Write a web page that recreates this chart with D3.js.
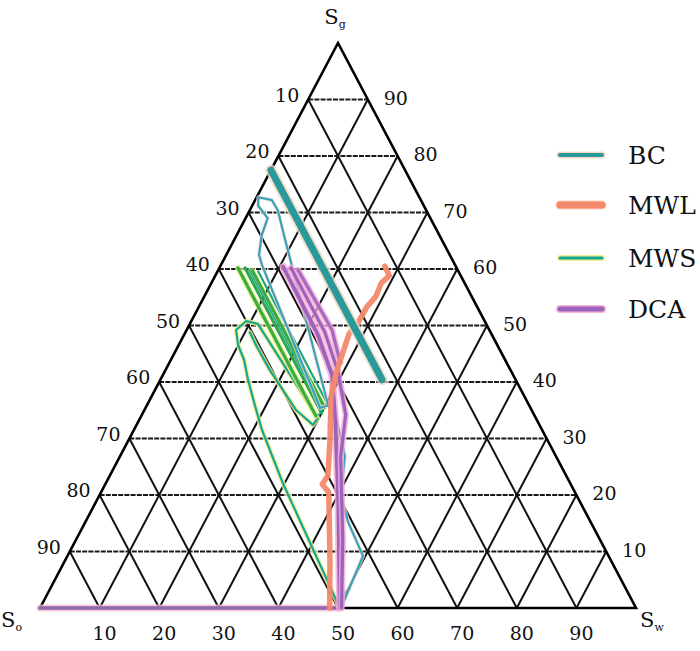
<!DOCTYPE html>
<html><head><meta charset="utf-8">
<script src="https://cdn.jsdelivr.net/npm/d3@7/dist/d3.min.js"></script>
<style>body{margin:0;background:#fff}svg{display:block}</style>
</head><body>
<svg id="c" width="700" height="651"></svg>
<script>
// Data: points as [Sg, Sw] in percent (So = 100 - Sg - Sw)
const gridValues = [10,20,30,40,50,60,70,80,90];
const leftTickLabels = ["10","20","30","40","50","60","70","80","90"];   // So
const rightTickLabels = ["90","80","70","60","50","40","30","20","10"];  // Sg
const bottomTickLabels = ["10","20","30","40","50","60","70","80","90"]; // Sw
const seriesNames = ["BC","MWL","MWS","DCA"];

const bcThick = [[77.5,0],[40.4,37.2]];
const bcThin = [[0,50.5],[9.2,49.6],[15.2,44.1],[19.8,40.6],[26.9,37.7],[33.6,32.9],[35.9,30.4],
  [65.1,8.6],[70.4,4.7],[72.2,2.8],[72.7,0.3],[71.2,1.0],[69.0,3.7],[66.0,4.2],[62.5,5.5],[60.7,6.9],[35.4,29.3],[35.9,30.4]];
const mwlPath = [[60.5,27.6],[58.8,29.2],[57.5,28.5],[55.2,28.8],[53.3,28.2],[50.6,28.1],[48.5,27.6],[44.8,28.3],
  [41.6,28.9],[37.5,30.1],[29.7,33.8],[23.4,36.6],[21.9,36.4],[20.5,38.2],[8.5,44.4],[0,48.6]];
const mwsOuter = [[0,50.3],[22.1,29.7],[31.5,21.5],[35.9,18.1],[40.4,14.7],[43.9,12.3],[46.5,10.0],[49.2,8.3],
  [50.8,9.2],[50.3,11.4],[33.6,29.8],[32.4,29.6],[35.0,25.5],[42.1,17.5],[46.5,13.0],[48.8,10.8]];
const mwsGreen1 = [[60.2,3.1],[34.0,29.3]];
const mwsGreen2 = [[60.2,4.3],[34.5,30.0]];
const mwsGreen3 = [[59.8,5.7],[35.5,30.0]];
const mwsGreen4 = [[59.6,6.8],[36.5,29.8]];
const mwsTeal = [[60.0,5.0],[35.0,30.0],[34.2,29.6]];
const dca1 = [[60.4,10.6],[48.3,22.5],[41.2,28.4],[33.3,32.9],[19.1,40.5],[0,50.3]];
const dca2 = [[60.2,12.0],[48.8,23.4],[41.8,29.1],[34.2,34.2],[26.9,37.0],[12.0,44.8],[0,50.6]];
const dca3 = [[59.8,13.4],[49.2,24.4],[43.5,28.6]];
const dcaBase = [[0,0],[0,50]];

const svg = d3.select("#c");
const yS = d3.scaleLinear().domain([0,100]).range([608,43]);   // Sg -> height
const xS = d3.scaleLinear().domain([0,100]).range([40,636]);   // Sw along base
const skew = (xS(50) - xS(0)) / 100;
const P = d => [xS(d[1]) + skew * d[0], yS(d[0])];
const line = d3.line().x(d => P(d)[0]).y(d => P(d)[1]);

const g = svg.append("g");
// Grid
gridValues.forEach(v => {
  g.append("path").attr("d", line([[v,0],[v,100-v]]))
    .attr("stroke","#1a1a1a").attr("stroke-width",2.2).attr("stroke-dasharray","5,1.2").attr("fill","none");
  g.append("path").attr("d", line([[0,v],[100-v,v]]))
    .attr("stroke","#111").attr("stroke-width",2).attr("fill","none");
  g.append("path").attr("d", line([[0,100-v],[100-v,0]]))
    .attr("stroke","#111").attr("stroke-width",2).attr("fill","none");
});
g.append("path").attr("d", line([[0,0],[100,0],[0,100],[0,0]]) + "Z")
  .attr("stroke","#000").attr("stroke-width",2.6).attr("fill","none").attr("stroke-linejoin","miter");

function draw(data, color, w, halo, hw, op){
  if (halo) g.append("path").attr("d", line(data)).attr("stroke", halo).attr("stroke-width", hw)
    .attr("fill","none").attr("stroke-linejoin","round").attr("stroke-linecap","round").attr("opacity",0.8);
  g.append("path").attr("d", line(data)).attr("stroke", color).attr("stroke-width", w)
    .attr("fill","none").attr("stroke-linejoin","round").attr("stroke-linecap","round").attr("opacity", op||1);
}
draw(dcaBase, "#8f6aaa", 3.5, "#f6b7cf", 7);
draw(mwsOuter, "#17a596", 2.2, "#f2ee8c", 5);
draw(mwsGreen1, "#3aad3c", 3.2, "#e9ef8f", 6);
draw(mwsGreen2, "#2fa84a", 3.2, null);
draw(mwsGreen3, "#3aad3c", 3.2, "#e9ef8f", 5);
draw(mwsGreen4, "#22a57a", 2.2, null);
draw(mwsTeal, "#17a596", 1.6, null);
draw(bcThin, "#3aa0c0", 2.2, "#f6e5cf", 4);
draw(dca1, "#9b63bb", 3.8, "#f6a9d6", 7.5);
draw(dca2, "#9b63bb", 3.2, "#f6a9d6", 6.5);
draw(dca3, "#a46bc2", 3.2, "#f6a9d6", 6.5);
draw(mwlPath, "#f4896a", 5.5, null, 0, 0.95);
draw(bcThick, "#2a999b", 7, "#f3d8bd", 11);

const font = "DejaVu Serif";
gridValues.forEach((v,i) => {
  const pl = P([100-v, 0]);
  g.append("text").attr("x", pl[0]-21).attr("y", pl[1]-5).text(leftTickLabels[i])
    .attr("text-anchor","middle").attr("dominant-baseline","central")
    .attr("font-family",font).attr("font-size",19).attr("fill","#111");
  const pr = P([100-v, v]);
  g.append("text").attr("x", pr[0]+28).attr("y", pr[1]-2).text(rightTickLabels[i])
    .attr("text-anchor","middle").attr("dominant-baseline","central")
    .attr("font-family",font).attr("font-size",19).attr("fill","#111");
  const pb = P([0, v]);
  g.append("text").attr("x", pb[0]+5).attr("y", 633).text(bottomTickLabels[i])
    .attr("text-anchor","middle").attr("dominant-baseline","central")
    .attr("font-family",font).attr("font-size",19).attr("fill","#111");
});

function vlabel(x, y, sub, anchor){
  const t = g.append("text").attr("x", x).attr("y", y).attr("font-family",font)
    .attr("font-size",21).attr("fill","#111").attr("text-anchor", anchor);
  t.append("tspan").text("S");
  t.append("tspan").text(sub).attr("font-size",11).attr("dy",4);
}
vlabel(335, 24, "g", "middle");
vlabel(1, 627, "o", "start");
vlabel(640, 627, "w", "start");

const legendStyles = {
  BC:  {c:"#2a999b", w:4, h:"#f6dcc4", hw:7},
  MWL: {c:"#f4896a", w:7, h:"#fbcdbd", hw:9},
  MWS: {c:"#17a596", w:3, h:"#f2ee8c", hw:6},
  DCA: {c:"#9b63bb", w:5, h:"#f6b3dc", hw:8}
};
const legY = d3.scaleOrdinal().domain(seriesNames).range([155,205,258,309]);
seriesNames.forEach(n => {
  const s = legendStyles[n], y = legY(n);
  g.append("line").attr("x1",560).attr("x2",602).attr("y1",y).attr("y2",y)
    .attr("stroke",s.h).attr("stroke-width",s.hw).attr("stroke-linecap","round");
  g.append("line").attr("x1",560).attr("x2",602).attr("y1",y).attr("y2",y)
    .attr("stroke",s.c).attr("stroke-width",s.w).attr("stroke-linecap","round");
  g.append("text").attr("x",628).attr("y",y).attr("dominant-baseline","central")
    .attr("font-family",font).attr("font-size",25).attr("fill","#111").text(n);
});
</script>
</body></html>
